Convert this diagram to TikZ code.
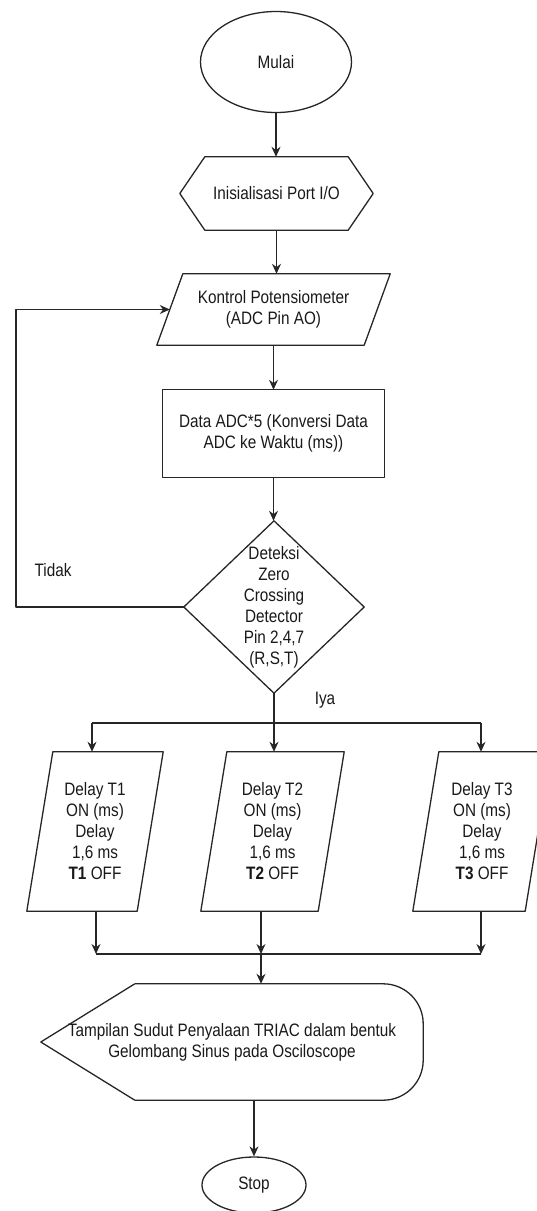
\documentclass[tikz,border=0pt]{standalone}
\usepackage{fontspec}
\setmainfont{Liberation Sans}[FakeStretch=0.85]
\usetikzlibrary{shapes.geometric,arrows.meta}
\newcommand\flfont{\fontsize{18}{21}\selectfont}
\tikzset{
  base/.style={font=\flfont, text=black!90, align=center, inner sep=0pt},
  frame/.style={base, rectangle, draw=none},
  ln/.style={draw=black!85, line width=1.3pt, line join=round},
  arr/.style={ln, -{Stealth[length=10pt,width=9pt]}},
  lbl/.style={base}
}
\begin{document}
\begin{tikzpicture}[x=1pt,y=-1pt]
\useasboundingbox (0,0) rectangle (537,1211);

% Start
\node[base, ellipse, ln, minimum width=151pt, minimum height=101pt] (mulai) at (276,62) {Mulai};

% Init hexagon
\node[frame, minimum width=193pt, minimum height=73pt] (init) at (276.5,193.5) {Inisialisasi Port I/O};
\draw[ln] (init.west) -- ([xshift=25pt]init.north west) -- ([xshift=-25pt]init.north east)
  -- (init.east) -- ([xshift=-25pt]init.south east) -- ([xshift=25pt]init.south west) -- cycle;

% Kontrol potensiometer (parallelogram)
\node[frame, minimum width=233pt, minimum height=71pt] (kp) at (273.5,309.5) {Kontrol Potensiometer\\(ADC Pin AO)};
\draw[ln] ([xshift=26pt]kp.north west) -- (kp.north east) -- ([xshift=-26pt]kp.south east) -- (kp.south west) -- cycle;

% ADC data rectangle
\node[frame, minimum width=221pt, minimum height=87pt] (adc) at (273.5,433.5) {Data ADC*5 (Konversi Data\\ADC ke Waktu (ms))};
\draw[ln] (adc.north west) rectangle (adc.south east);

% Decision diamond
\node[frame, minimum width=180pt, minimum height=172pt] (zcd) at (274,607) {Deteksi\\Zero\\Crossing\\Detector\\Pin 2,4,7\\(R,S,T)};
\draw[ln] (zcd.north) -- (zcd.east) -- (zcd.south) -- (zcd.west) -- cycle;

% Delay parallelograms
\node[frame, minimum width=136pt, minimum height=159pt] (d1) at (95,831.5) {Delay T1\\ON (ms)\\Delay\\1,6 ms\\\textbf{T1} OFF};
\node[frame, minimum width=143pt, minimum height=159pt] (d2) at (272.5,831.5) {Delay T2\\ON (ms)\\Delay\\1,6 ms\\\textbf{T2} OFF};
\node[frame, minimum width=138pt, minimum height=159pt] (d3) at (482,831.5) {Delay T3\\ON (ms)\\Delay\\1,6 ms\\\textbf{T3} OFF};
\foreach \d in {d1,d2,d3}{
  \draw[ln] ([xshift=26pt]\d.north west) -- (\d.north east) -- ([xshift=-26pt]\d.south east) -- (\d.south west) -- cycle;
}

% Display shape
\node[frame, minimum width=382pt, minimum height=116pt] (disp) at (232,1042) {Tampilan Sudut Penyalaan TRIAC dalam bentuk\\Gelombang Sinus pada Osciloscope};
\draw[ln] ([xshift=94pt]disp.north west) -- (disp.west) -- ([xshift=94pt]disp.south west);
\draw[ln, rounded corners=40pt] ([xshift=94pt]disp.south west) -- (disp.south east) -- (disp.north east) -- ([xshift=94pt]disp.north west);

% Stop
\node[base, ellipse, ln, minimum width=104pt, minimum height=56pt] (stop) at (254,1185) {Stop};

% Labels
\node[lbl] (tidak) at (53,570) {Tidak};
\node[lbl] (iya) at (325,700) {Iya};

% Helper coordinates
\coordinate (lp) at (16,0);
\coordinate (brL) at (92,723);
\coordinate (brM) at (274,723);
\coordinate (brR) at (481,723);
\coordinate (m1) at (96,954);
\coordinate (m2) at (261,954);
\coordinate (m3) at (481,954);

% Connectors
\draw[arr] (mulai.south) -- (mulai.south |- init.north);
\draw[arr] (init.south) -- (init.south |- kp.north);
\draw[arr] (kp.south) -- (kp.south |- adc.north);
\draw[arr] (adc.south) -- (adc.south |- zcd.north);
\draw[arr] (zcd.west) -- (zcd.west -| lp) -- (lp |- kp.west) -- ([xshift=13pt]kp.west);

\draw[ln] (zcd.south) -- (brM);
\draw[ln] (brL) -- (brR);
\draw[arr] (brL) -- (brL |- d1.north);
\draw[arr] (brM) -- (brM |- d2.north);
\draw[arr] (brR) -- (brR |- d3.north);

\draw[arr] (m1 |- d1.south) -- (m1);
\draw[arr] (m2 |- d2.south) -- (m2);
\draw[arr] (m3 |- d3.south) -- (m3);
\draw[ln] (m1) -- (m3);
\draw[arr] (m2) -- (m2 |- disp.north);
\draw[arr] (stop.north |- disp.south) -- (stop.north);
\end{tikzpicture}
\end{document}
